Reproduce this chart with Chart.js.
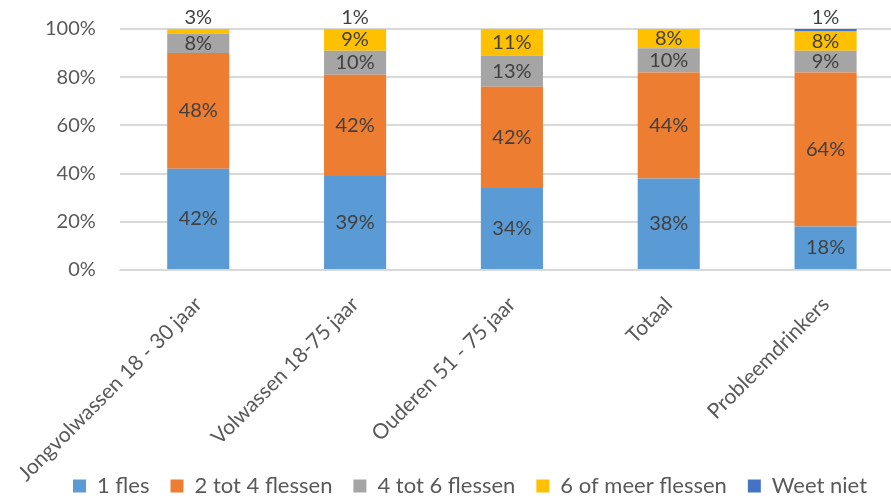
<!DOCTYPE html>
<html lang="nl">
<head>
  <meta charset="UTF-8" />
  <title>Aantal flessen</title>
  <script src="https://cdn.jsdelivr.net/npm/chart.js"></script>
  <style>
    html, body { margin: 0; padding: 0; background: #fff; overflow: hidden; }
    #wrap { width: 891px; height: 504px; overflow: hidden; }
    #chart { display: block; margin-top: -7px; margin-left: -4px; }
  </style>
</head>
<body>
  <div id="wrap"><canvas id="chart" width="908" height="511"></canvas></div>

  <script>
    // Data (percent)
    const categories = [
      "Jongvolwassen 18 - 30 jaar",
      "Volwassen 18-75 jaar",
      "Ouderen 51 - 75 jaar",
      "Totaal",
      "Probleemdrinkers"
    ];
    const eenFles = [42, 39, 34, 38, 18];
    const tweeTotVier = [48, 42, 42, 44, 64];
    const vierTotZes = [8, 10, 13, 10, 9];
    const zesOfMeer = [3, 9, 11, 8, 8];
    const weetNiet = [0, 1, 0.3, 0.3, 1];
    const yTicks = [0, 20, 40, 60, 80, 100];

    const textColor = "#595959";
    const labelColor = "#404040";
    const fontFamily = "Lato, 'Noto Sans', sans-serif";

    // Draw the percentage labels on the segments
    const segmentLabels = {
      id: "segmentLabels",
      afterDatasetsDraw(chart) {
        const ctx = chart.ctx;
        const area = chart.chartArea;
        ctx.save();
        ctx.font = "20px " + fontFamily;
        ctx.fillStyle = labelColor;
        ctx.textAlign = "center";
        ctx.textBaseline = "middle";
        chart.data.datasets.forEach((ds, di) => {
          const meta = chart.getDatasetMeta(di);
          meta.data.forEach((bar, i) => {
            const v = ds.data[i];
            if (v < 0.5) return;
            // is this the top-most visible segment?
            let isTop = true;
            for (let k = di + 1; k < chart.data.datasets.length; k++) {
              if (chart.data.datasets[k].data[i] >= 0.5) isTop = false;
            }
            const top = Math.max(bar.y, area.top);
            const bottom = Math.min(bar.base, area.bottom);
            let y = (top + bottom) / 2;
            if (isTop && v < 4) y = area.top - 11;
            ctx.fillText(Math.round(v) + "%", bar.x, y);
          });
        });
        ctx.restore();
      }
    };

    // Shorter legend box (drawn a bit to the right), and let the long x labels run into it
    const layoutTweaks = {
      id: "layoutTweaks",
      afterInit(chart) {
        const lg = chart.legend;
        const origFit = lg.fit;
        lg.fit = function () {
          origFit.call(this);
          this.height = 50;
        };
        const origDraw = lg.draw;
        lg.draw = function () {
          const ctx = this.ctx;
          ctx.save();
          ctx.translate(20, 0);
          origDraw.call(this);
          ctx.restore();
        };
      },
      afterLayout(chart) {
        chart.scales.x._computeLabelArea = () => undefined;
      }
    };

    new Chart(document.getElementById("chart").getContext("2d"), {
      type: "bar",
      data: {
        labels: categories,
        datasets: [
          { label: "1 fles", data: eenFles, backgroundColor: "#5B9BD5" },
          { label: "2 tot 4 flessen", data: tweeTotVier, backgroundColor: "#ED7D31" },
          { label: "4 tot 6 flessen", data: vierTotZes, backgroundColor: "#A5A5A5" },
          { label: "6 of meer flessen", data: zesOfMeer, backgroundColor: "#FFC000" },
          { label: "Weet niet", data: weetNiet, backgroundColor: "#4472C4" }
        ]
      },
      options: {
        responsive: false,
        animation: false,
        barPercentage: 0.8,
        categoryPercentage: 0.495,
        layout: { padding: 0 },
        plugins: {
          tooltip: { enabled: false },
          legend: {
            position: "bottom",
            labels: {
              color: textColor,
              font: { family: fontFamily, size: 22 },
              boxWidth: 13,
              boxHeight: 13,
              padding: 21
            }
          }
        },
        scales: {
          x: {
            stacked: true,
            grid: { display: false },
            border: { color: "#d9d9d9" },
            afterFit: (scale) => { scale.height = 184; },
            ticks: {
              color: textColor,
              font: { family: fontFamily, size: 21 },
              minRotation: 45,
              maxRotation: 45,
              padding: 14
            }
          },
          y: {
            stacked: true,
            min: 0,
            max: 100,
            afterBuildTicks: (scale) => { scale.ticks = yTicks.map(v => ({ value: v })); },
            afterFit: (scale) => { scale.width = 116; },
            grid: { color: "#d9d9d9", lineWidth: 2, drawTicks: false },
            border: { display: false },
            ticks: {
              color: textColor,
              font: { family: fontFamily, size: 20 },
              padding: 24,
              callback: (v) => v + "%"
            }
          }
        }
      },
      plugins: [segmentLabels, layoutTweaks]
    });
  </script>
</body>
</html>
